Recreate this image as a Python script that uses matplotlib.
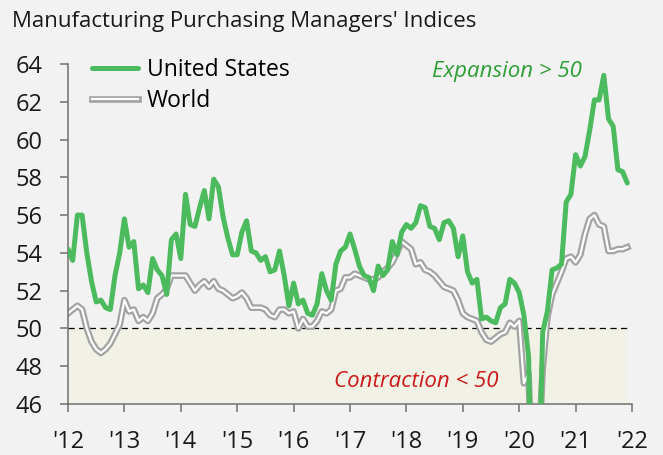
import numpy as np
import matplotlib
matplotlib.use("Agg")
from matplotlib import pyplot as plt
import matplotlib.patheffects as pe

plt.rcParams['font.family'] = ['Open Sans', 'DejaVu Sans']

# monthly data, Jan 2012 - Dec 2021
us = [54.2, 53.6, 56.0, 56.0, 54.0, 52.5, 51.4, 51.5, 51.1, 51.0, 52.8, 54.0,
      55.8, 54.3, 54.6, 52.1, 52.3, 51.9, 53.7, 53.1, 52.8, 51.8, 54.7, 55.0,
      53.7, 57.1, 55.5, 55.4, 56.4, 57.3, 55.8, 57.9, 57.5, 55.9, 54.8, 53.9,
      53.9, 55.1, 55.7, 54.1, 54.0, 53.6, 53.8, 53.0, 53.1, 54.1, 52.8, 51.2,
      52.4, 51.3, 51.5, 50.8, 50.7, 51.3, 52.9, 52.0, 51.5, 53.4, 54.1, 54.3,
      55.0, 54.2, 53.3, 52.8, 52.7, 52.0, 53.3, 52.8, 53.1, 54.6, 53.9, 55.1,
      55.5, 55.3, 55.6, 56.5, 56.4, 55.4, 55.3, 54.7, 55.6, 55.7, 55.3, 53.8,
      54.9, 53.0, 52.4, 52.6, 50.5, 50.6, 50.4, 50.3, 51.1, 51.3, 52.6, 52.4,
      51.9, 50.7, 48.5, 36.1, 39.8, 49.8, 50.9, 53.1, 53.2, 53.4, 56.7, 57.1,
      59.2, 58.6, 59.1, 60.5, 62.1, 62.1, 63.4, 61.1, 60.7, 58.4, 58.3, 57.7]

world = [50.8, 51.0, 51.2, 51.0, 50.0, 49.3, 48.9, 48.7, 48.9, 49.2, 49.7, 50.2,
         51.5, 50.9, 51.0, 50.4, 50.6, 50.4, 50.8, 51.6, 51.8, 52.1, 52.8, 52.8,
         52.8, 52.8, 52.4, 52.0, 52.3, 52.5, 52.2, 52.5, 52.1, 52.0, 51.8, 51.6,
         51.7, 51.9, 51.6, 51.1, 51.1, 51.1, 51.0, 50.7, 50.6, 51.0, 51.0, 50.8,
         50.9, 50.0, 50.5, 50.1, 50.1, 50.4, 50.9, 50.8, 51.0, 52.0, 52.1, 52.7,
         52.7, 52.9, 52.8, 52.7, 52.6, 52.6, 52.7, 53.0, 53.2, 53.5, 54.0, 54.6,
         54.4, 54.2, 53.4, 53.5, 53.1, 53.0, 52.8, 52.5, 52.2, 52.1, 52.0, 51.5,
         50.8, 50.6, 50.5, 50.4, 49.8, 49.4, 49.3, 49.5, 49.7, 49.8, 50.3, 50.1,
         50.4, 47.1, 47.6, 39.6, 42.4, 47.9, 50.6, 51.8, 52.4, 53.0, 53.7, 53.8,
         53.5, 53.9, 55.0, 55.8, 56.0, 55.5, 55.4, 54.1, 54.1, 54.2, 54.2, 54.3]

year_labels = ["'12", "'13", "'14", "'15", "'16", "'17", "'18", "'19", "'20", "'21", "'22"]

months = np.arange(len(us))
bg = '#f2f2f2'

fig = plt.figure(figsize=(6.63, 4.55), dpi=100, facecolor=bg)
ax = fig.add_axes([68/663, 1-404/455, 564/663, 340/455], facecolor=bg)

# contraction zone + 50 line
ax.fill_between([months[0], months[-1]], 46, 50, color='#f1f1e6', lw=0, zorder=0)
ax.plot([months[0], months[-1]], [50, 50], color='black', lw=0.9,
        dashes=(5, 3.5), zorder=1)

ax.plot(months, world, color='white', lw=1.6, label='World', zorder=2,
        path_effects=[pe.Stroke(linewidth=4.8, foreground='#a3a3a3'), pe.Normal()])
ax.plot(months, us, color='#4cbb5e', lw=3.6, label='United States', zorder=3,
        solid_joinstyle='round', solid_capstyle='round')

ax.set_xlim(0, 120)
ax.set_ylim(46, 64)
ax.set_yticks(np.arange(46, 65, 2))
ax.set_xticks(np.arange(0, 121, 12))
ax.set_xticklabels(year_labels)

for s in ['top', 'right']:
    ax.spines[s].set_visible(False)
for s in ['left', 'bottom']:
    ax.spines[s].set_color('#707070')
    ax.spines[s].set_linewidth(1.1)
ax.tick_params(axis='both', colors='#707070', labelcolor='#1a1a1a',
               labelsize=17, width=1.1, length=6, direction='out', pad=12.5)

handles, labels = ax.get_legend_handles_labels()
ax.legend(handles[::-1], labels[::-1], loc='upper left',
          bbox_to_anchor=(0.0426, 1.017), frameon=False, fontsize=16.5,
          handlelength=2.0, handletextpad=0.4, labelspacing=0.28,
          borderpad=0, borderaxespad=0)

ax.text(93.4, 63.6, 'Expansion > 50', color='#2e9e35', style='italic',
        fontsize=16, ha='center', va='center')
ax.text(74, 47.2, 'Contraction < 50', color='#cc1a1a', style='italic',
        fontsize=16, ha='center', va='center')

fig.text(12/663, 1-27/455, "Manufacturing Purchasing Managers' Indices",
         fontsize=16, color='#1a1a1a', ha='left', va='baseline')

fig.savefig('out.png', dpi=100, facecolor=bg)
